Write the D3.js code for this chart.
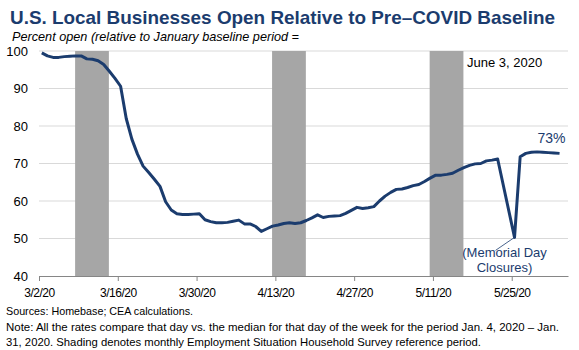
<!DOCTYPE html>
<html>
<head>
<meta charset="utf-8">
<script src="https://cdn.jsdelivr.net/npm/d3@7"></script>
<style>
  body { margin: 0; background: #fff; }
  svg { font-family: Arial, "Liberation Sans", sans-serif; }
</style>
</head>
<body>
<div class="chart"></div>
<script>

// daily percent open, 3/2/20 .. 6/2/20 (null = no point, line joins across)
var startDate = "2020-03-02";
var percentOpen = [
  99.5, 98.7, 98.3, 98.3, 98.5, 98.6, 98.7, 98.7, 97.9, 97.8,
  97.4, 96.4, 94.6, 92.7, 90.6, 82.0, 76.5, 72.5, 69.3, 67.6,
  65.8, 63.9, 59.8, 57.6, 56.6, 56.4, 56.4, 56.5, 56.6, 55.0,
  54.5, 54.2, 54.2, 54.3, 54.6, 54.9, 53.9, 53.9, 53.2, 51.9,
  52.6, 53.3, 53.6, 54.0, 54.2, 54.0, 54.2, 54.8, 55.5, 56.3,
  55.6, 55.9, 56.0, 56.1, 56.7, 57.5, 58.3, 58.0, 58.2, 58.5,
  60.0, 61.3, 62.3, 63.1, 63.2, 63.6, 64.1, 64.4, 65.2, 66.1,
  66.9, 66.9, 67.1, 67.4, 68.2, 68.9, 69.5, 69.9, 70.0, 70.7,
  70.9, 71.2, null, null, 50.3, 71.8, 72.7, 73.0, 73.1, 73.0,
  72.9, 72.8, 72.7
];

// Employment Situation household survey reference weeks
var shadeStarts = ["2020-03-08", "2020-04-12", "2020-05-10"];
var shadeEnds   = ["2020-03-14", "2020-04-18", "2020-05-16"];

var xTickDates = ["2020-03-02", "2020-03-16", "2020-03-30", "2020-04-13", "2020-04-27", "2020-05-11", "2020-05-25"];
var yTicks = [40, 50, 60, 70, 80, 90, 100];

var titleText = "U.S. Local Businesses Open Relative to Pre\u2013COVID Baseline";
var subtitleText = "Percent open (relative to January baseline period =";
var footLines = [
  "Sources: Homebase;  CEA  calculations.",
  "Note:  All the rates  compare  that  day  vs. the median  for that day of the  week for the period  Jan. 4, 2020 \u2013 Jan.",
  "31, 2020.  Shading  denotes  monthly  Employment  Situation  Household  Survey reference period."
];

var navy = "#1b3c6e";
var parse = d3.timeParse("%Y-%m-%d");
var day0 = parse(startDate);

var data = percentOpen.map(function(v, i) {
  return { date: d3.timeHour.offset(d3.timeDay.offset(day0, i), 12), value: v };
}).filter(function(d) { return d.value != null; });

var width = 579, height = 350;

var svg = d3.select(".chart")
  .append("svg")
    .attr("width", width)
    .attr("height", height);

var x = d3.scaleTime()
  .domain([parse("2020-03-02"), parse("2020-06-04")])
  .range([39, 568]);

var y = d3.scaleLinear()
  .domain([40, 100])
  .range([276, 51]);

// gridlines
svg.append("g")
  .selectAll("line")
  .data(yTicks.filter(function(d) { return d > 40; }))
  .enter()
  .append("line")
    .attr("x1", 39)
    .attr("x2", 568)
    .attr("y1", function(d) { return y(d) })
    .attr("y2", function(d) { return y(d) })
    .style("stroke", "#d9d9d9")
    .style("stroke-width", 1);

// shading bars
svg.append("g")
  .selectAll("rect")
  .data(shadeStarts)
  .enter()
  .append("rect")
    .attr("x", function(d) { return x(d3.timeHour.offset(parse(d), 10)) })
    .attr("y", y(100))
    .attr("width", function(d, i) {
      return x(parse(shadeEnds[i])) - x(parse(d));
    })
    .attr("height", y(40) - y(100))
    .style("fill", "#a6a6a6");

// x axis
var xAxis = svg.append("g")
  .attr("transform", "translate(0," + y(40) + ")")
  .call(d3.axisBottom(x)
    .tickValues(xTickDates.map(parse))
    .tickFormat(d3.timeFormat("%-m/%-d/%y"))
    .tickSize(5)
    .tickSizeOuter(0));

xAxis.select(".domain").style("stroke", "#868686");
xAxis.selectAll(".tick line").style("stroke", "#868686");
xAxis.selectAll("text")
  .attr("dy", "1.05em")
  .style("font-size", "12px")
  .style("letter-spacing", "-0.5px")
  .style("font-family", "Arial, 'Liberation Sans', sans-serif")
  .style("fill", "#000");

// y axis labels
var yAxis = svg.append("g")
  .attr("transform", "translate(39,0)")
  .call(d3.axisLeft(y).tickValues(yTicks).tickSize(0).tickPadding(11));

yAxis.select(".domain").remove();
yAxis.selectAll("text")
  .style("font-size", "13px")
  .style("font-family", "Arial, 'Liberation Sans', sans-serif")
  .style("fill", "#000");

// the line
var line = d3.line()
  .x(function(d) { return x(d.date) })
  .y(function(d) { return y(d.value) });

svg.append("path")
  .datum(data)
  .attr("d", line)
  .style("fill", "none")
  .style("stroke", navy)
  .style("stroke-width", 3)
  .style("stroke-linejoin", "round");

// annotations
var dip = data.filter(function(d) { return d.value < 51; })[0];

svg.append("line")
  .attr("x1", x(dip.date))
  .attr("y1", y(dip.value))
  .attr("x2", x(dip.date) - 19)
  .attr("y2", y(dip.value) + 13)
  .style("stroke", navy)
  .style("stroke-width", 0.8);

svg.append("text")
  .attr("x", x(dip.date) - 10)
  .attr("y", 257)
  .attr("text-anchor", "middle")
  .style("font-size", "13px")
  .style("fill", navy)
  .text("(Memorial Day");

svg.append("text")
  .attr("x", x(dip.date) - 10)
  .attr("y", 272)
  .attr("text-anchor", "middle")
  .style("font-size", "13px")
  .style("fill", navy)
  .text("Closures)");

var last = data[data.length - 1];
svg.append("text")
  .attr("x", x(last.date) + 6)
  .attr("y", 143)
  .attr("text-anchor", "end")
  .style("font-size", "14px")
  .style("fill", navy)
  .text(Math.round(last.value) + "%");

svg.append("text")
  .attr("x", 467)
  .attr("y", 67)
  .style("font-size", "13px")
  .style("fill", "#000")
  .text("June 3, 2020");

// title + subtitle
svg.append("text")
  .attr("x", 10)
  .attr("y", 24)
  .attr("textLength", 545)
  .attr("lengthAdjust", "spacingAndGlyphs")
  .style("font-size", "19px")
  .style("font-weight", "bold")
  .style("fill", navy)
  .text(titleText);

svg.append("text")
  .attr("x", 12)
  .attr("y", 41)
  .attr("textLength", 287)
  .attr("lengthAdjust", "spacingAndGlyphs")
  .style("font-size", "13px")
  .style("font-style", "italic")
  .style("fill", "#000")
  .text(subtitleText);

// footnotes
var footLens = [187, 553, 475];
svg.append("g")
  .selectAll("text")
  .data(footLines)
  .enter()
  .append("text")
    .attr("x", 6)
    .attr("y", function(d, i) { return 315 + i * 15.5 })
    .attr("textLength", function(d, i) { return footLens[i] })
    .attr("lengthAdjust", "spacingAndGlyphs")
    .style("font-size", "11px")
    .style("fill", "#000")
    .text(function(d) { return d });

</script>
</body>
</html>
